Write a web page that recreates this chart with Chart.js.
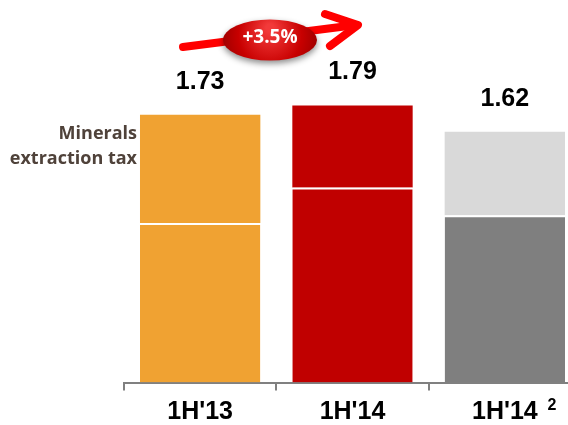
<!DOCTYPE html>
<html>
<head>
<meta charset="utf-8">
<script src="https://cdn.jsdelivr.net/npm/chart.js@4.4.1/dist/chart.umd.min.js"></script>
<style>
  html, body { margin: 0; padding: 0; background: #fff; overflow: hidden; }
  #wrap { width: 600px; height: 425px; }
</style>
</head>
<body>
<div id="wrap"><canvas id="taxChart" width="600" height="425"></canvas></div>
<script>
// Data
const categories = ["1H'13", "1H'14", "1H'14"];
const baseValues = [1.03, 1.26, 1.08];
const taxValues = [0.70, 0.53, 0.54];
const totals = [1.73, 1.79, 1.62];
const growthLabel = '+3.5%';
const sideLabel = ['Minerals', 'extraction tax'];

// Colors
const baseColors = ['#F0A232', '#C00000', '#7F7F7F'];
const taxColors = ['#F0A232', '#C00000', '#D9D9D9'];

// Totals above bars, side label, growth arrow, footnote mark
const annotations = {
    id: 'annotations',
    afterDatasetsDraw(chart) {
        const ctx = chart.ctx;
        const meta = chart.getDatasetMeta(1);
        const xScale = chart.scales.x;

        ctx.save();
        ctx.fillStyle = '#000';
        ctx.font = "bold 25px 'Liberation Sans', Arial, sans-serif";
        ctx.textAlign = 'center';
        ctx.textBaseline = 'middle';
        meta.data.forEach((bar, i) => {
            ctx.fillText(totals[i].toFixed(2), bar.x, bar.y - 33);
        });

        // footnote "2" next to the last category
        ctx.font = "bold 16px 'Liberation Sans', Arial, sans-serif";
        ctx.fillText('2', xScale.getPixelForValue(2) + 47, 406);

        // side label
        ctx.fillStyle = '#4F423A';
        ctx.font = "bold 18px 'Open Sans', sans-serif";
        ctx.textAlign = 'right';
        ctx.fillText(sideLabel[0], 137, 134);
        ctx.fillText(sideLabel[1], 137, 159);

        // growth arrow
        ctx.strokeStyle = '#FF0000';
        ctx.lineWidth = 8;
        ctx.lineCap = 'round';
        ctx.lineJoin = 'round';
        ctx.beginPath();
        ctx.moveTo(183, 47);
        ctx.lineTo(356, 25);
        ctx.stroke();
        ctx.beginPath();
        ctx.moveTo(325, 14);
        ctx.lineTo(358, 25);
        ctx.lineTo(330, 46);
        ctx.stroke();

        // ellipse badge
        ctx.save();
        ctx.shadowColor = 'rgba(0,0,0,0.45)';
        ctx.shadowBlur = 6;
        ctx.shadowOffsetY = 3;
        const grad = ctx.createRadialGradient(270, 28, 4, 270, 40, 50);
        grad.addColorStop(0, '#F23A3A');
        grad.addColorStop(0.6, '#C80000');
        grad.addColorStop(1, '#9A0000');
        ctx.fillStyle = grad;
        ctx.beginPath();
        ctx.ellipse(270, 40, 47, 20.5, 0, 0, Math.PI * 2);
        ctx.fill();
        ctx.restore();

        ctx.fillStyle = '#fff';
        ctx.font = "bold 19px 'Open Sans', sans-serif";
        ctx.textAlign = 'center';
        ctx.fillText(growthLabel, 270, 38);
        ctx.restore();
    }
};

const ctx = document.getElementById('taxChart').getContext('2d');
new Chart(ctx, {
    type: 'bar',
    data: {
        labels: categories,
        datasets: [
            {
                label: 'Base',
                data: baseValues,
                backgroundColor: baseColors,
                borderColor: '#fff',
                borderWidth: { top: 2, left: 0, right: 0, bottom: 0 },
                borderSkipped: false,
                barPercentage: 0.79,
                categoryPercentage: 1
            },
            {
                label: 'Minerals extraction tax',
                data: taxValues,
                backgroundColor: taxColors,
                borderWidth: 0,
                barPercentage: 0.79,
                categoryPercentage: 1
            }
        ]
    },
    options: {
        responsive: false,
        animation: false,
        layout: {
            padding: { left: 124, right: 19, top: 42, bottom: 0 }
        },
        scales: {
            x: {
                stacked: true,
                afterFit: (scale) => { scale.height = 42.5; },
                border: { display: true, color: '#808080', width: 2 },
                grid: {
                    offset: true,
                    drawOnChartArea: false,
                    drawTicks: true,
                    tickLength: 8,
                    color: '#808080',
                    lineWidth: 2
                },
                ticks: {
                    color: '#000',
                    padding: 7,
                    font: { family: "'Liberation Sans', Arial, sans-serif", size: 25, weight: 'bold' }
                }
            },
            y: {
                stacked: true,
                display: false,
                min: 0,
                max: 2.2
            }
        },
        plugins: {
            legend: { display: false },
            tooltip: { enabled: false }
        }
    },
    plugins: [annotations]
});
</script>
</body>
</html>
